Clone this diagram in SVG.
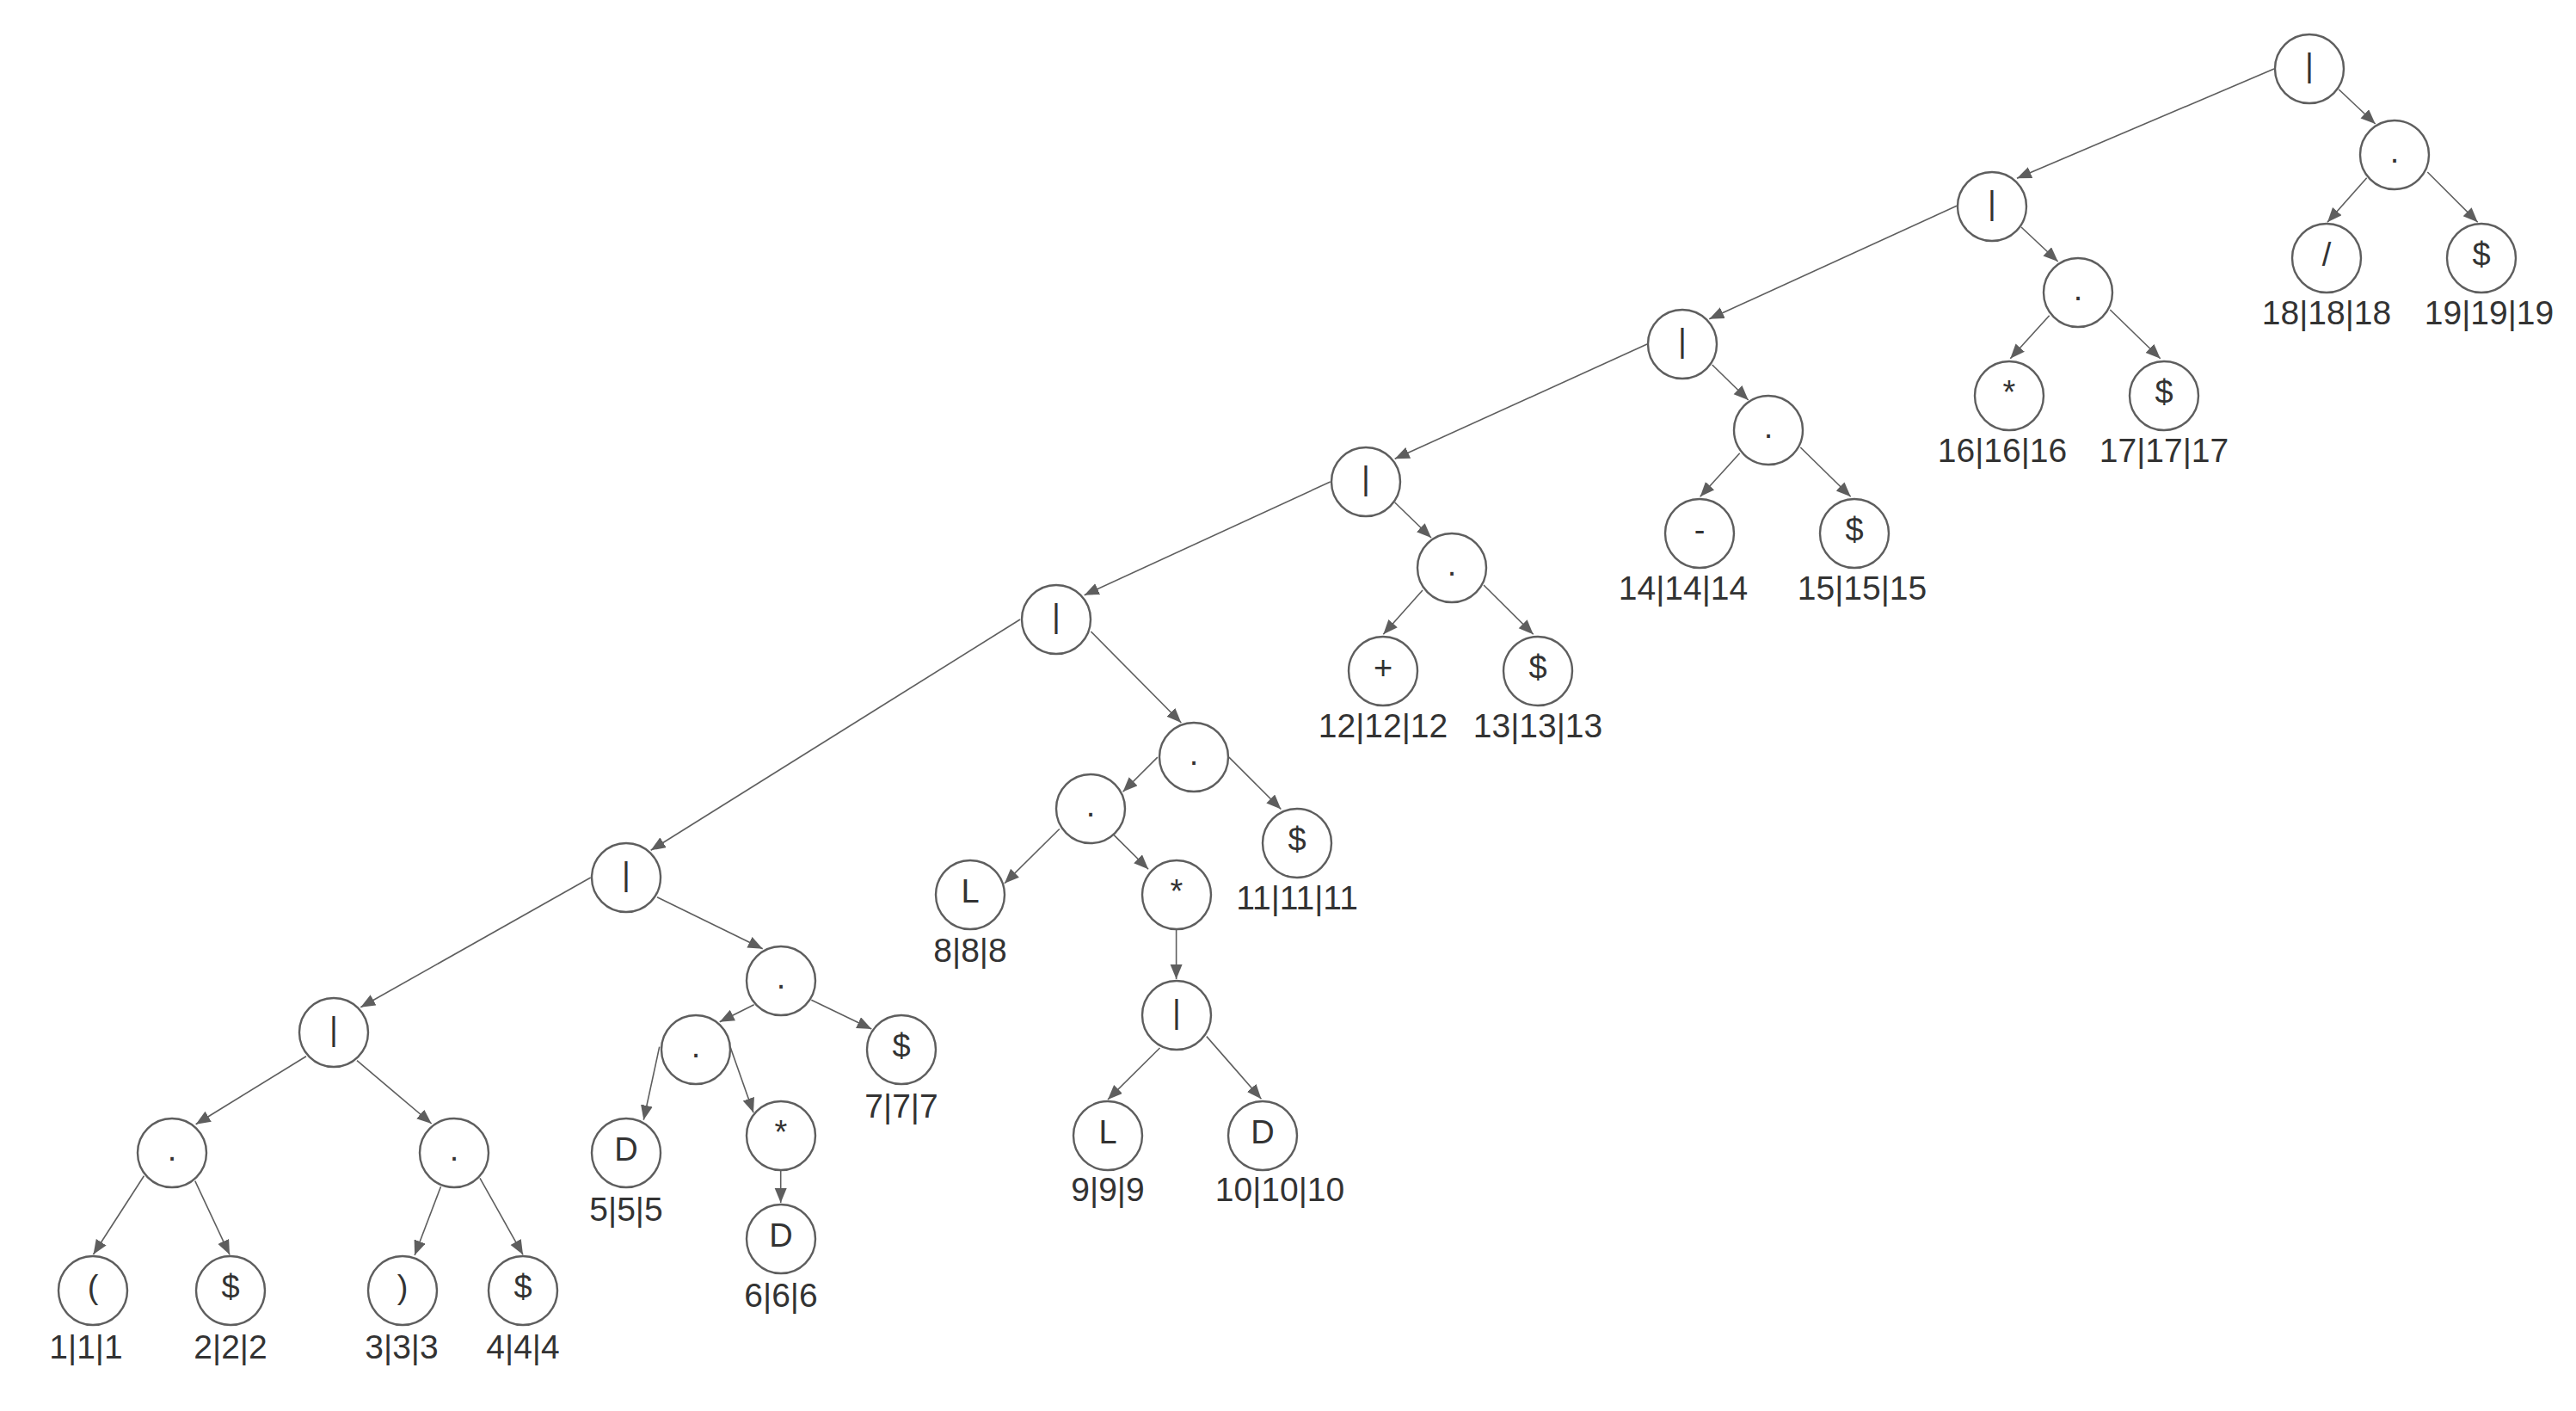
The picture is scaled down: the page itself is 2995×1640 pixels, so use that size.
<svg xmlns="http://www.w3.org/2000/svg" width="2995" height="1640" viewBox="0 0 2995 1640">
<style>
.n circle{fill:#fff;stroke:#5e5e5e;stroke-width:2.4}
.n text{font-family:"Liberation Sans",Arial,sans-serif;font-size:38px;fill:#333;text-anchor:middle}
.lbl{font-family:"Liberation Sans",Arial,sans-serif;font-size:39px;fill:#333;text-anchor:middle}
#edges line{stroke:#5e5e5e;stroke-width:1.6;marker-end:url(#arr)}
</style>
<defs>
<marker id="arr" markerUnits="userSpaceOnUse" markerWidth="20" markerHeight="16" refX="17" refY="7" orient="auto">
<path d="M0,0 L17,7 L0,14 z" fill="#5e5e5e"/>
</marker>
</defs>
<rect width="2995" height="1640" fill="#fff"/>
<g id="edges">
<line x1="2719.3" y1="104" x2="2761.7" y2="144"/>
<line x1="2751.7" y1="206.7" x2="2706" y2="258.3"/>
<line x1="2822.3" y1="200" x2="2880.7" y2="258.3"/>
<line x1="2644" y1="80" x2="2345" y2="207.3"/>
<line x1="2350" y1="264" x2="2392.7" y2="304"/>
<line x1="2382.7" y1="366.7" x2="2337.3" y2="416.7"/>
<line x1="2453.3" y1="360" x2="2511.7" y2="416.7"/>
<line x1="2275" y1="239.3" x2="1987.3" y2="370.7"/>
<line x1="1990.7" y1="424" x2="2032.7" y2="465"/>
<line x1="2022.7" y1="526.7" x2="1976.7" y2="577.3"/>
<line x1="2093.3" y1="520" x2="2151.7" y2="577.3"/>
<line x1="1915" y1="400" x2="1621.7" y2="533.3"/>
<line x1="1621.7" y1="584" x2="1664" y2="625"/>
<line x1="1654" y1="686" x2="1608.3" y2="737.3"/>
<line x1="1725" y1="680" x2="1782.7" y2="737.3"/>
<line x1="1546.7" y1="560" x2="1260.7" y2="691.7"/>
<line x1="1268.3" y1="734" x2="1373.3" y2="840"/>
<line x1="1345.8" y1="880.1" x2="1305.6" y2="920.3"/>
<line x1="1428.9" y1="880.1" x2="1489.3" y2="940.5"/>
<line x1="1231.8" y1="963.5" x2="1167.9" y2="1026.7"/>
<line x1="1294.9" y1="970.4" x2="1335.1" y2="1010.2"/>
<line x1="1367.6" y1="1080.2" x2="1367.6" y2="1138"/>
<line x1="1348.5" y1="1218" x2="1288" y2="1278"/>
<line x1="1402.8" y1="1204.6" x2="1466.4" y2="1277.3"/>
<line x1="1186" y1="720" x2="756.7" y2="988.3"/>
<line x1="764" y1="1042.7" x2="886.7" y2="1102.7"/>
<line x1="876.7" y1="1167.7" x2="836.7" y2="1187.7"/>
<line x1="943.3" y1="1162.3" x2="1013.3" y2="1196"/>
<line x1="766.7" y1="1216.7" x2="748.3" y2="1301.7"/>
<line x1="849" y1="1216.7" x2="876" y2="1293.3"/>
<line x1="907.7" y1="1360" x2="907.7" y2="1398"/>
<line x1="686.7" y1="1020" x2="419.3" y2="1170.7"/>
<line x1="356" y1="1227.7" x2="227.7" y2="1306.7"/>
<line x1="415" y1="1232.7" x2="501.7" y2="1306"/>
<line x1="167.4" y1="1366.7" x2="108.5" y2="1458"/>
<line x1="226.8" y1="1372.7" x2="267" y2="1458.3"/>
<line x1="512.5" y1="1379.3" x2="482.1" y2="1459"/>
<line x1="558" y1="1369.3" x2="608" y2="1458.3"/>
</g>
<g id="n1" class="n"><circle cx="2685" cy="80" r="40"/><text x="2685" y="89">|</text></g>
<g id="n2" class="n"><circle cx="2784" cy="180" r="40"/><text x="2784" y="189">.</text></g>
<g id="n3" class="n"><circle cx="2705" cy="300" r="40"/><text x="2705" y="309">/</text></g>
<g id="n4" class="n"><circle cx="2885" cy="300" r="40"/><text x="2885" y="309">$</text></g>
<g id="n5" class="n"><circle cx="2316" cy="240" r="40"/><text x="2316" y="249">|</text></g>
<g id="n6" class="n"><circle cx="2416" cy="340" r="40"/><text x="2416" y="349">.</text></g>
<g id="n7" class="n"><circle cx="2336" cy="460" r="40"/><text x="2336" y="469">*</text></g>
<g id="n8" class="n"><circle cx="2516" cy="460" r="40"/><text x="2516" y="469">$</text></g>
<g id="n9" class="n"><circle cx="1956" cy="400" r="40"/><text x="1956" y="409">|</text></g>
<g id="n10" class="n"><circle cx="2056" cy="500" r="40"/><text x="2056" y="509">.</text></g>
<g id="n11" class="n"><circle cx="1976" cy="620" r="40"/><text x="1976" y="629">-</text></g>
<g id="n12" class="n"><circle cx="2156" cy="620" r="40"/><text x="2156" y="629">$</text></g>
<g id="n13" class="n"><circle cx="1588" cy="560" r="40"/><text x="1588" y="569">|</text></g>
<g id="n14" class="n"><circle cx="1688" cy="660" r="40"/><text x="1688" y="669">.</text></g>
<g id="n15" class="n"><circle cx="1608" cy="780" r="40"/><text x="1608" y="789">+</text></g>
<g id="n16" class="n"><circle cx="1788" cy="780" r="40"/><text x="1788" y="789">$</text></g>
<g id="n17" class="n"><circle cx="1228" cy="720" r="40"/><text x="1228" y="729">|</text></g>
<g id="n18" class="n"><circle cx="1388" cy="880" r="40"/><text x="1388" y="889">.</text></g>
<g id="n19" class="n"><circle cx="1268" cy="940" r="40"/><text x="1268" y="949">.</text></g>
<g id="n20" class="n"><circle cx="1128" cy="1040" r="40"/><text x="1128" y="1049">L</text></g>
<g id="n21" class="n"><circle cx="1368" cy="1040" r="40"/><text x="1368" y="1049">*</text></g>
<g id="n22" class="n"><circle cx="1368" cy="1180" r="40"/><text x="1368" y="1189">|</text></g>
<g id="n23" class="n"><circle cx="1288" cy="1320" r="40"/><text x="1288" y="1329">L</text></g>
<g id="n24" class="n"><circle cx="1468" cy="1320" r="40"/><text x="1468" y="1329">D</text></g>
<g id="n25" class="n"><circle cx="1508" cy="980" r="40"/><text x="1508" y="989">$</text></g>
<g id="n26" class="n"><circle cx="728" cy="1020" r="40"/><text x="728" y="1029">|</text></g>
<g id="n27" class="n"><circle cx="908" cy="1140" r="40"/><text x="908" y="1149">.</text></g>
<g id="n28" class="n"><circle cx="809" cy="1220" r="40"/><text x="809" y="1229">.</text></g>
<g id="n29" class="n"><circle cx="728" cy="1340" r="40"/><text x="728" y="1349">D</text></g>
<g id="n30" class="n"><circle cx="908" cy="1320" r="40"/><text x="908" y="1329">*</text></g>
<g id="n31" class="n"><circle cx="908" cy="1440" r="40"/><text x="908" y="1449">D</text></g>
<g id="n32" class="n"><circle cx="1048" cy="1220" r="40"/><text x="1048" y="1229">$</text></g>
<g id="n33" class="n"><circle cx="388" cy="1200" r="40"/><text x="388" y="1209">|</text></g>
<g id="n34" class="n"><circle cx="200" cy="1340" r="40"/><text x="200" y="1349">.</text></g>
<g id="n35" class="n"><circle cx="528" cy="1340" r="40"/><text x="528" y="1349">.</text></g>
<g id="n36" class="n"><circle cx="108" cy="1500" r="40"/><text x="108" y="1509">(</text></g>
<g id="n37" class="n"><circle cx="268" cy="1500" r="40"/><text x="268" y="1509">$</text></g>
<g id="n38" class="n"><circle cx="468" cy="1500" r="40"/><text x="468" y="1509">)</text></g>
<g id="n39" class="n"><circle cx="608" cy="1500" r="40"/><text x="608" y="1509">$</text></g>
<g id="labels">
<text class="lbl" x="2705" y="377">18|18|18</text>
<text class="lbl" x="2894" y="377">19|19|19</text>
<text class="lbl" x="2328" y="537">16|16|16</text>
<text class="lbl" x="2516" y="537">17|17|17</text>
<text class="lbl" x="1957" y="697">14|14|14</text>
<text class="lbl" x="2165" y="697">15|15|15</text>
<text class="lbl" x="1608" y="857">12|12|12</text>
<text class="lbl" x="1788" y="857">13|13|13</text>
<text class="lbl" x="1508" y="1057">11|11|11</text>
<text class="lbl" x="1128" y="1118">8|8|8</text>
<text class="lbl" x="1288" y="1396">9|9|9</text>
<text class="lbl" x="1488" y="1396">10|10|10</text>
<text class="lbl" x="1048" y="1299">7|7|7</text>
<text class="lbl" x="728" y="1419">5|5|5</text>
<text class="lbl" x="908" y="1519">6|6|6</text>
<text class="lbl" x="100" y="1579">1|1|1</text>
<text class="lbl" x="268" y="1579">2|2|2</text>
<text class="lbl" x="467" y="1579">3|3|3</text>
<text class="lbl" x="608" y="1579">4|4|4</text>
</g>
</svg>
